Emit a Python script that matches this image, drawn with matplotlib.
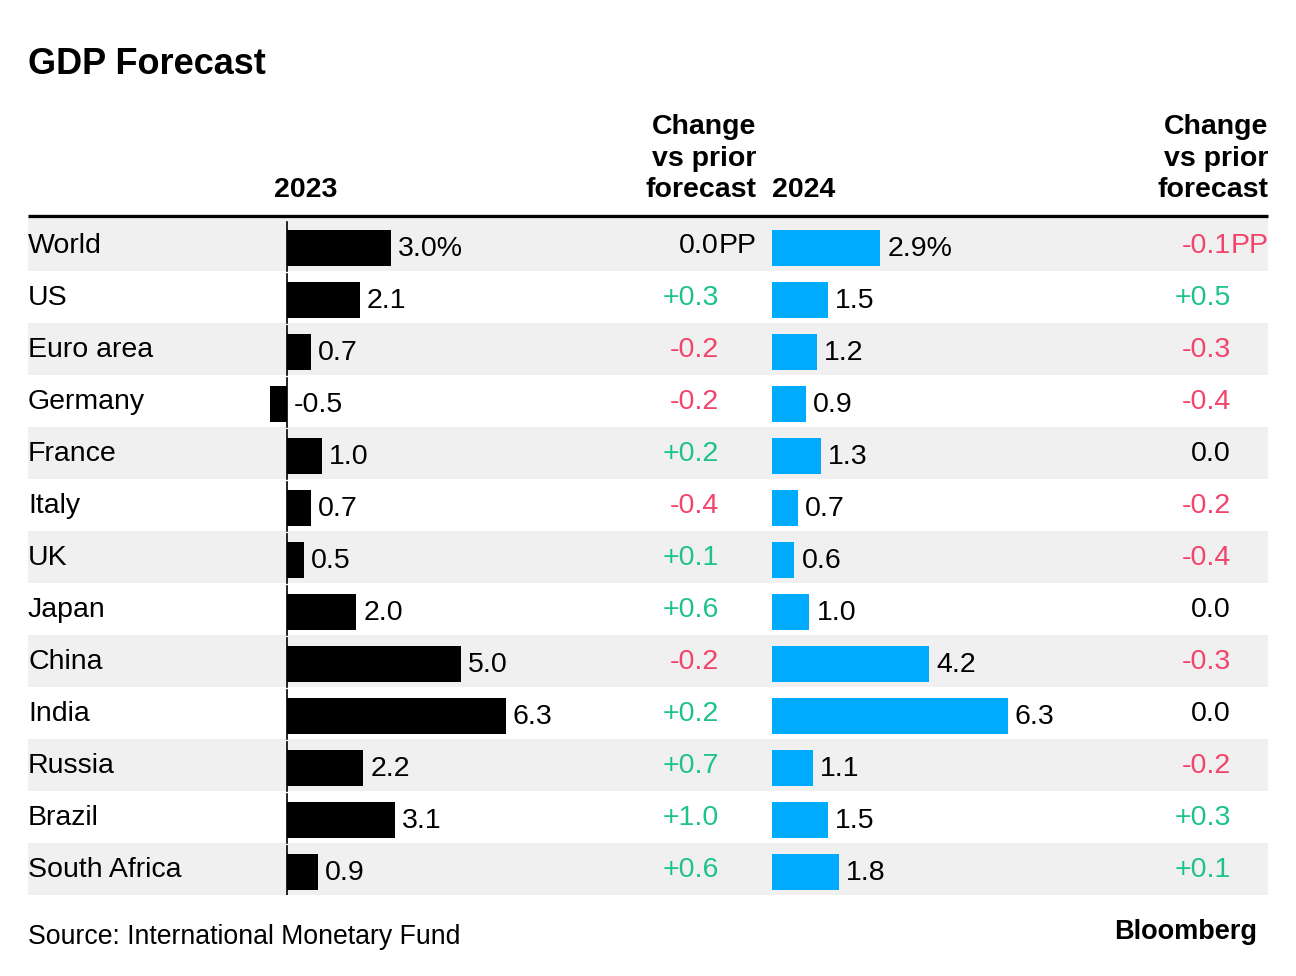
import matplotlib.pyplot as plt

plt.rcParams['font.family'] = ['Liberation Sans', 'DejaVu Sans']

# ---------------- DATA ----------------
countries = ["World", "US", "Euro area", "Germany", "France", "Italy", "UK",
             "Japan", "China", "India", "Russia", "Brazil", "South Africa"]
gdp_2023 = [3.0, 2.1, 0.7, -0.5, 1.0, 0.7, 0.5, 2.0, 5.0, 6.3, 2.2, 3.1, 0.9]
chg_2023 = [0.0, 0.3, -0.2, -0.2, 0.2, -0.4, 0.1, 0.6, -0.2, 0.2, 0.7, 1.0, 0.6]
gdp_2024 = [2.9, 1.5, 1.2, 0.9, 1.3, 0.7, 0.6, 1.0, 4.2, 6.3, 1.1, 1.5, 1.8]
chg_2024 = [-0.1, 0.5, -0.3, -0.4, 0.0, -0.2, -0.4, 0.0, -0.3, 0.0, -0.2, 0.3, 0.1]

GREEN = "#1ec28b"
RED = "#f2446b"
BLUE = "#00aaff"
STRIPE = "#f0f0f0"

W, H = 1296, 976
ROW_TOP, ROW_H = 219, 52
n = len(countries)
FS = 20.5

fig = plt.figure(figsize=(W / 100, H / 100), dpi=100)

# main axes in pixel coordinates (y downwards)
ax = fig.add_axes([0, 0, 1, 1])
ax.set_xlim(0, W)
ax.set_ylim(H, 0)
ax.axis("off")


def row_y(i):
    return ROW_TOP + ROW_H * i + ROW_H / 2


# stripes
for i in range(n):
    if i % 2 == 0:
        ax.fill_between([28, 1268], ROW_TOP + ROW_H * i, ROW_TOP + ROW_H * (i + 1),
                        color=STRIPE, lw=0, zorder=0)

# header
ax.plot([28, 1268], [216, 216], color="black", lw=2.4, solid_capstyle="butt")
ax.text(28, 64, "GDP Forecast", fontsize=26, fontweight="bold", va="center", ha="left")
ax.text(306, 190, "2023", fontsize=20.5, fontweight="bold", va="center", ha="center")
ax.text(772, 190, "2024", fontsize=20.5, fontweight="bold", va="center", ha="left")
for xr in (756, 1268):
    for yy, s in zip((127, 159, 190), ("Change", "vs prior", "forecast")):
        ax.text(xr, yy, s, fontsize=20.5, fontweight="bold", va="center", ha="right")

# footer
ax.text(28, 937, "Source: International Monetary Fund", fontsize=19.2, va="center", ha="left")
ax.text(1257, 932, "Bloomberg", fontsize=19.5, fontweight="bold", va="center", ha="right")


def chg_color(v):
    if v > 0:
        return GREEN
    if v < 0:
        return RED
    return "black"


def chg_text(v):
    if v > 0:
        return f"+{v:.1f}"
    if v < 0:
        return f"{v:.1f}"
    return "0.0"


# country names and change columns
for i in range(n):
    y = row_y(i) + 1
    ax.text(28, y, countries[i], fontsize=FS, va="center", ha="left")
    for xr, vals in ((719, chg_2023), (1231, chg_2024)):
        v = vals[i]
        ax.text(xr, y, chg_text(v), fontsize=FS, va="center", ha="right", color=chg_color(v))
        if i == 0:
            ax.text(xr, y, "PP", fontsize=FS, va="center", ha="left", color=chg_color(v))


# bar panels
def bar_panel(vals, zero_px, px_per_unit, left_px, right_px, color, zero_line):
    rect = [left_px / W, (H - (ROW_TOP + ROW_H * n)) / H, (right_px - left_px) / W, ROW_H * n / H]
    bax = fig.add_axes(rect)
    bax.patch.set_alpha(0)
    bax.set_xlim((left_px - zero_px) / px_per_unit, (right_px - zero_px) / px_per_unit)
    bax.set_ylim(n - 0.5, -0.5)
    bax.axis("off")
    rows = list(range(n))
    bax.barh([r + 0.06 for r in rows], vals, height=0.69, color=color, zorder=2)
    for i, v in enumerate(vals):
        lab = f"{v:.1f}%" if i == 0 else f"{v:.1f}"
        bax.annotate(lab, (max(v, 0), i + 0.08), xytext=(7, 0), textcoords="offset pixels",
                     fontsize=FS, va="center", ha="left")
        if zero_line:
            bax.plot([0, 0], [i - 0.44, i + 0.5], color="black", lw=1.2, zorder=3)
    return bax


bar_panel(gdp_2023, 287, 34.7, 230, 640, "black", True)
bar_panel(gdp_2024, 772, 37.4, 740, 1150, BLUE, False)

fig.savefig("out.png", dpi=100)
